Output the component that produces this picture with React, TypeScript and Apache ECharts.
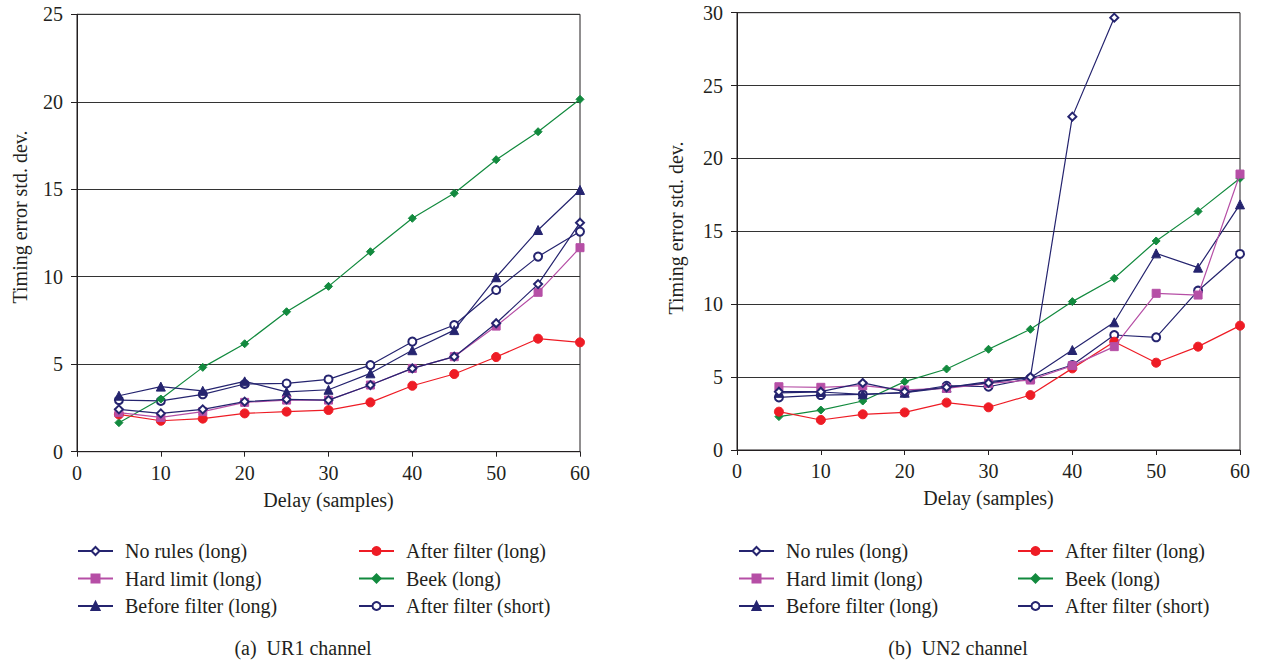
import React, { useEffect, useRef } from "react";
import * as echarts from "echarts";

const delays = [5, 10, 15, 20, 25, 30, 35, 40, 45, 50, 55, 60];

// (a) UR1 channel
const ur1NoRules = [2.42, 2.19, 2.42, 2.86, 2.99, 2.95, 3.81, 4.76, 5.43, 7.34, 9.58, 13.09];
const ur1HardLimit = [2.23, 1.96, 2.29, 2.82, 2.95, 2.95, 3.81, 4.76, 5.43, 7.18, 9.11, 11.66];
const ur1BeforeFilter = [3.2, 3.72, 3.48, 4.02, 3.42, 3.54, 4.48, 5.8, 6.95, 9.97, 12.67, 14.96];
const ur1AfterFilterLong = [2.13, 1.77, 1.89, 2.19, 2.29, 2.38, 2.82, 3.77, 4.44, 5.41, 6.46, 6.25];
const ur1Beek = [1.66, 3.01, 4.82, 6.17, 8.0, 9.45, 11.43, 13.34, 14.77, 16.69, 18.29, 20.14];
const ur1AfterFilterShort = [2.95, 2.9, 3.28, 3.87, 3.9, 4.13, 4.95, 6.29, 7.24, 9.24, 11.15, 12.58];

// (b) UN2 channel
const un2NoRules = [4.0, 4.0, 4.6, 4.0, 4.3, 4.6, 5.0, 22.87, 29.66];
const un2HardLimit = [4.34, 4.3, 4.41, 4.12, 4.23, 4.57, 4.8, 5.79, 7.09, 10.75, 10.63, 18.93];
const un2BeforeFilter = [3.92, 3.98, 3.82, 3.93, 4.28, 4.69, 4.96, 6.86, 8.76, 13.49, 12.51, 16.85];
const un2AfterFilterLong = [2.63, 2.06, 2.45, 2.58, 3.25, 2.93, 3.77, 5.6, 7.43, 5.99, 7.09, 8.53];
const un2Beek = [2.29, 2.74, 3.36, 4.69, 5.56, 6.91, 8.28, 10.18, 11.78, 14.34, 16.37, 18.64];
const un2AfterFilterShort = [3.61, 3.77, 3.82, 3.93, 4.41, 4.34, 4.92, 5.83, 7.89, 7.73, 10.93, 13.45];

const names = [
  "No rules (long)",
  "Hard limit (long)",
  "Before filter (long)",
  "After filter (long)",
  "Beek (long)",
  "After filter (short)",
];

const NAVY = "#25246f";
const MAGENTA = "#b64fa6";
const RED = "#ee1c25";
const GREEN = "#128a3e";
const TEXT = "#231f20";
const FONT = "'Liberation Serif', 'Times New Roman', serif";
const FS = 20;

const styles = [
  { color: NAVY, symbol: "emptyDiamond", size: 8 },
  { color: MAGENTA, symbol: "rect", size: 8 },
  { color: NAVY, symbol: "triangle", size: 9 },
  { color: RED, symbol: "circle", size: 9 },
  { color: GREEN, symbol: "diamond", size: 8 },
  { color: NAVY, symbol: "emptyCircle", size: 8 },
];

function pairs(vals: number[]) {
  return vals.map((v, i) => [delays[i], v]);
}

export default function App() {
  const ref = useRef<HTMLDivElement>(null);
  useEffect(() => {
    if (!ref.current) return;
    const chart = echarts.init(ref.current, undefined, { renderer: "svg" });
    const left = [ur1NoRules, ur1HardLimit, ur1BeforeFilter, ur1AfterFilterLong, ur1Beek, ur1AfterFilterShort];
    const right = [un2NoRules, un2HardLimit, un2BeforeFilter, un2AfterFilterLong, un2Beek, un2AfterFilterShort];
    const series: any[] = [];
    [left, right].forEach((set, gi) => {
      set.forEach((vals, si) => {
        const s = styles[si];
        series.push({
          type: "line",
          name: names[si],
          xAxisIndex: gi,
          yAxisIndex: gi,
          data: pairs(vals),
          symbol: s.symbol,
          symbolSize: s.size,
          showAllSymbol: true,
          lineStyle: { color: s.color, width: 1.2 },
          itemStyle: { color: s.color, borderColor: s.color, borderWidth: 1 },
          z: 10 - si,
        });
      });
    });
    const xAxisBase = (gi: number) => ({
      type: "value",
      gridIndex: gi,
      min: 0,
      max: 60,
      interval: 10,
      name: "Delay (samples)",
      nameLocation: "middle",
      nameGap: 38,
      nameTextStyle: { fontFamily: FONT, fontSize: FS, color: TEXT },
      axisLine: { show: true, lineStyle: { color: TEXT, width: 1 } },
      axisTick: { show: true, length: 5, lineStyle: { color: TEXT } },
      axisLabel: { fontFamily: FONT, fontSize: FS, color: TEXT, margin: 11 },
      splitLine: { show: false },
    });
    const yAxisBase = (gi: number, max: number) => ({
      type: "value",
      gridIndex: gi,
      min: 0,
      max,
      interval: 5,
      axisLine: { show: true, lineStyle: { color: TEXT, width: 1 } },
      axisTick: { show: true, length: 6, lineStyle: { color: TEXT } },
      axisLabel: { fontFamily: FONT, fontSize: FS, color: TEXT, margin: 14 },
      splitLine: { show: true, lineStyle: { color: "#333333", width: 1 } },
    });
    const legendBase = (data: string[], leftPos: number) => ({
      data,
      orient: "vertical",
      left: leftPos,
      top: 541,
      padding: 0,
      itemWidth: 35,
      itemHeight: 10,
      itemGap: 7.5,
      textStyle: { fontFamily: FONT, fontSize: FS, color: TEXT, padding: [0, 0, 0, 7] },
      selectedMode: false,
    });
    const textEl = (x: number, y: number, text: string, rot = 0) => ({
      type: "text", x, y, rotation: rot,
      style: { text, fontFamily: FONT, fontSize: FS, fill: TEXT, align: "center", verticalAlign: "middle" },
    });
    chart.setOption({
      animation: false,
      backgroundColor: "#ffffff",
      grid: [
        { left: 77, top: 14.3, width: 503, height: 437.4, show: true, borderColor: TEXT, borderWidth: 1, containLabel: false },
        { left: 737, top: 12.7, width: 503, height: 437.3, show: true, borderColor: TEXT, borderWidth: 1, containLabel: false },
      ],
      xAxis: [xAxisBase(0), xAxisBase(1)],
      yAxis: [yAxisBase(0, 25), yAxisBase(1, 30)],
      legend: [
        legendBase(names.slice(0, 3), 77),
        legendBase(names.slice(3, 6), 358),
        legendBase(names.slice(0, 3), 738),
        legendBase(names.slice(3, 6), 1017),
      ],
      graphic: [
        textEl(20, 217, "Timing error std. dev.", Math.PI / 2),
        textEl(676, 228, "Timing error std. dev.", Math.PI / 2),
        textEl(303, 648, "(a)  UR1 channel"),
        textEl(958, 648, "(b)  UN2 channel"),
      ],
      series,
    });
    return () => chart.dispose();
  }, []);
  return <div ref={ref} style={{ position: "fixed", left: 0, top: 0, width: 1274, height: 661 }} />;
}
